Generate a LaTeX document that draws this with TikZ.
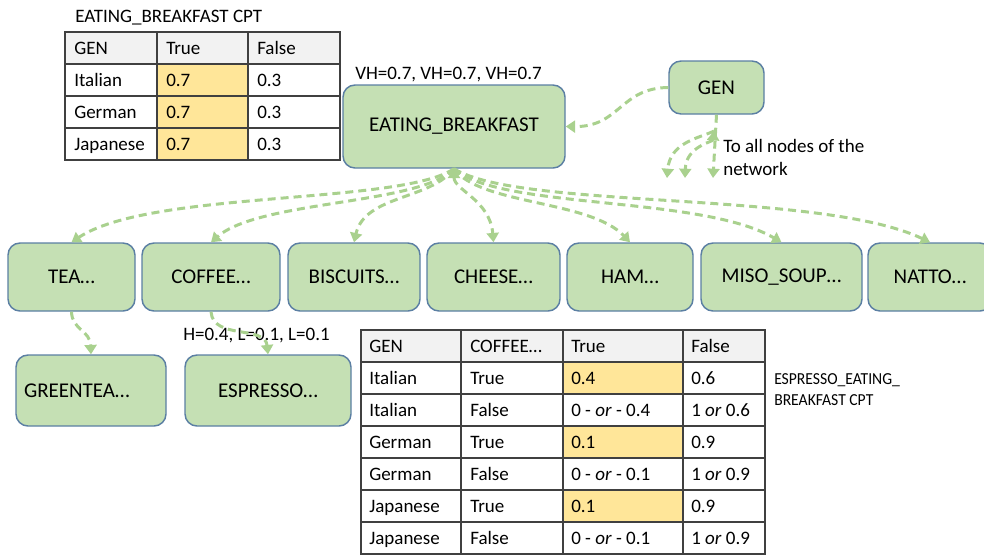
\documentclass[tikz,border=0pt]{standalone}
\usepackage{fontspec}
\setmainfont{Carlito}
\usetikzlibrary{arrows.meta}
\definecolor{nodefill}{HTML}{C5E0B4}
\definecolor{nodeedge}{HTML}{5B7FA3}
\definecolor{linkgreen}{HTML}{A9D18E}
\definecolor{cellhead}{HTML}{F2F2F2}
\definecolor{cellhi}{HTML}{FFE699}
\begin{document}
\begin{tikzpicture}[x=0.75pt,y=-0.75pt,
  >={Triangle[length=7pt,width=9pt]},
  netbox/.style={draw=nodeedge, fill=nodefill, rounded corners=9pt, line width=1.1pt,
    inner sep=0pt, font=\fontsize{15.75}{19}\selectfont},
  link/.style={draw=linkgreen, line width=2.25pt, dash pattern=on 6pt off 3.75pt, ->},
  tablerule/.style={draw=black!75, line width=1pt},
  celltext/.style={anchor=base west, inner sep=0pt, font=\fontsize{14.25}{17}\selectfont},
  labeltext/.style={anchor=base west, inner sep=0pt, font=\fontsize{14.25}{17}\selectfont},
  smalltext/.style={anchor=base west, inner sep=0pt, xscale=0.93, font=\fontsize{12.6}{15}\selectfont}]
\useasboundingbox (0,0) rectangle (984,554);

% ---------- EATING_BREAKFAST CPT ----------
\node[labeltext] (cpt1title) at (75,22) {EATING\_BREAKFAST CPT};
\fill[cellhead] (65,32) rectangle (340,64);
\fill[cellhi] (157,64) rectangle (248,160);
\draw[tablerule] (65,32) rectangle (340,160);
\foreach \y in {64,96,128} \draw[tablerule] (65,\y) -- (340,\y);
\foreach \x in {157,248} \draw[tablerule] (\x,32) -- (\x,160);
\foreach \a/\b/\c [count=\r from 0] in {GEN/True/False, Italian/0.7/0.3, German/0.7/0.3, Japanese/0.7/0.3} {
  \node[celltext] (ta-\r-1) at (74,{54+32*\r}) {\a};
  \node[celltext] (ta-\r-2) at (166,{54+32*\r}) {\b};
  \node[celltext] (ta-\r-3) at (257,{54+32*\r}) {\c};
}

% ---------- network nodes ----------
\node[netbox, minimum width=166.5pt, minimum height=62.25pt] (eb) at (454,126.5) {EATING\_BREAKFAST};
\node[labeltext] (ebprob) at (355,79) {VH=0.7, VH=0.7, VH=0.7};
\node[netbox, minimum width=71.25pt, minimum height=39.75pt] (gen) at (716.5,87.5) {GEN};

\node[netbox, minimum width=95.25pt, minimum height=51pt] (tea) at (71.5,277) {TEA…};
\node[netbox, minimum width=103.5pt, minimum height=51pt] (coffee) at (211,277) {COFFEE…};
\node[netbox, minimum width=99pt, minimum height=51pt] (biscuits) at (354,277) {BISCUITS…};
\node[netbox, minimum width=99.75pt, minimum height=51pt] (cheese) at (493.5,277) {CHEESE…};
\node[netbox, minimum width=94.5pt, minimum height=51pt] (ham) at (630,277) {HAM…};
\node[netbox, minimum width=120.75pt, minimum height=51pt] (miso) at (781.5,277) {MISO\_SOUP…};
\node[netbox, minimum width=93pt, minimum height=51pt] (natto) at (930,277) {NATTO…};

\node[netbox, minimum width=112.5pt, minimum height=53.25pt, inner xsep=6pt,
  text width=100.5pt, align=left] (greentea) at (91,390.5) {GREENTEA…};
\node[netbox, minimum width=124.5pt, minimum height=53.25pt] (espresso) at (268,390.5) {ESPRESSO…};
\node[labeltext] (espprob) at (183,340) {H=0.4, L=0.1, L=0.1};

% ---------- connectors ----------
\draw[link] (gen.west) .. controls (620,88) and (620,127) .. (eb.east);

\coordinate (g0) at (714,131);
\coordinate (gA) at (713,178);
\coordinate (gB) at (685,178);
\coordinate (gC) at (667,178);
\draw[link] (gen.south) -- (gA);
\draw[link, <->] (g0) .. controls (713,142) and (686,146) .. (gB);
\draw[link] (g0) .. controls (700,138) and (670,142) .. (gC);
\node[labeltext] (note1) at (723,152) {To all nodes of the};
\node[labeltext] (note2) at (723,175) {network};

\draw[link] (eb.south) .. controls (400,205) and (150,190) .. (tea.north);
\draw[link] (eb.south) .. controls (420,205) and (260,200) .. (coffee.north);
\draw[link] (eb.south) .. controls (430,200) and (365,195) .. (biscuits.north);
\draw[link, <->] (eb.south) .. controls (454,190) and (490,200) .. (cheese.north);
\draw[link] (eb.south) .. controls (480,205) and (590,200) .. (ham.north);
\draw[link] (eb.south) .. controls (500,210) and (700,195) .. (miso.north);
\draw[link] (eb.south) .. controls (520,210) and (820,190) .. (natto.north);

\draw[link] (tea.south) .. controls (72,330) and (90,330) .. (greentea.north);
\draw[link] (coffee.south) .. controls (213,340) and (265,325) .. (espresso.north);

% ---------- ESPRESSO_EATING_BREAKFAST CPT ----------
\fill[cellhead] (361,330) rectangle (765,362);
\fill[cellhi] (563,362) rectangle (683,394);
\fill[cellhi] (563,426) rectangle (683,458);
\fill[cellhi] (563,490) rectangle (683,522);
\draw[tablerule] (361,330) rectangle (765,554);
\foreach \y in {362,394,426,458,490,522} \draw[tablerule] (361,\y) -- (765,\y);
\foreach \x in {461,563,683} \draw[tablerule] (\x,330) -- (\x,554);
\foreach \a/\b/\c/\d [count=\r from 0] in {
  GEN/COFFEE…/True/False,
  Italian/True/0.4/0.6,
  Italian/False/{0 - \textit{or} - 0.4}/{1 \textit{or} 0.6},
  German/True/0.1/0.9,
  German/False/{0 - \textit{or} - 0.1}/{1 \textit{or} 0.9},
  Japanese/True/0.1/0.9,
  Japanese/False/{0 - \textit{or} - 0.1}/{1 \textit{or} 0.9}} {
  \node[celltext] (tb-\r-1) at (369,{352+32*\r}) {\a};
  \node[celltext] (tb-\r-2) at (470,{352+32*\r}) {\b};
  \node[celltext] (tb-\r-3) at (571,{352+32*\r}) {\c};
  \node[celltext] (tb-\r-4) at (691,{352+32*\r}) {\d};
}
\node[smalltext] (cpt2a) at (774,384) {ESPRESSO\_EATING\_};
\node[smalltext] (cpt2b) at (774,405) {BREAKFAST CPT};
\end{tikzpicture}
\end{document}
